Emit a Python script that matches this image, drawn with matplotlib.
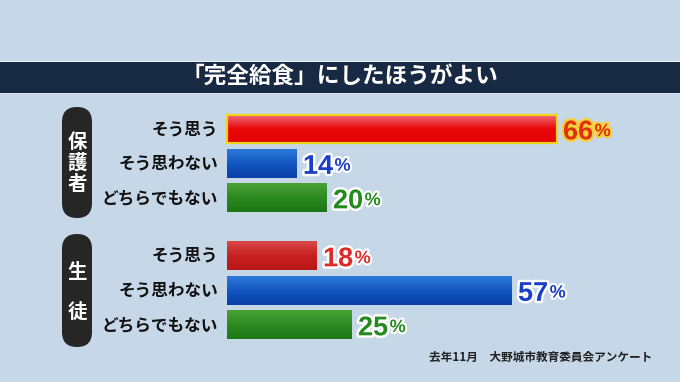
import numpy as np
import matplotlib
matplotlib.use('Agg')
import matplotlib.pyplot as plt
from matplotlib.patches import Rectangle, FancyBboxPatch
from matplotlib.colors import LinearSegmentedColormap
import matplotlib.patheffects as pe

plt.rcParams['font.family'] = ['Noto Sans CJK JP', 'DejaVu Sans']

# data
title = '「完全給食」にしたほうがよい'
groups = ['保護者', '生徒']
answers = ['そう思う', 'そう思わない', 'どちらでもない']
parents = [66, 14, 20]
students = [18, 57, 25]
source = '去年11月　大野城市教育委員会アンケート'

W, H = 680, 382
bg = '#c6d8e8'
fig = plt.figure(figsize=(W / 100, H / 100), dpi=100, facecolor=bg)


def fx(px):
    return px / W


def fy(py):
    return 1 - py / H


# title band
fig.patches.append(Rectangle((0, fy(93)), 1, fy(62) - fy(93), transform=fig.transFigure,
                             facecolor='#172943', edgecolor='none'))
fig.patches.append(Rectangle((0, fy(62)), 1, 1.2 / H, transform=fig.transFigure,
                             facecolor='#eef4fa', edgecolor='none'))
fig.patches.append(Rectangle((0, fy(94)), 1, 1.2 / H, transform=fig.transFigure,
                             facecolor='#dde8f2', edgecolor='none'))
fig.text(0.5, fy(77), title, color='white', fontsize=16.3, fontweight='bold',
         ha='center', va='center')

# group pills
pills = [(107, 218, [142, 163.5, 185]), (234, 347, [272, 312])]
for (top, bot, ys), name in zip(pills, groups):
    fig.patches.append(FancyBboxPatch((fx(62), fy(bot)), fx(92) - fx(62), fy(top) - fy(bot),
                                      boxstyle='round,pad=0,rounding_size=0.022',
                                      transform=fig.transFigure, facecolor='#262626',
                                      edgecolor='none', mutation_aspect=W / H))
    for ch, yy in zip(name, ys):
        fig.text(fx(77), fy(yy), ch, color='white', fontsize=14, fontweight='bold',
                 ha='center', va='center')

# bars axes: 0% at x=227px, 5 px per %
ax = fig.add_axes([0, 0, 1, 1])
ax.set_facecolor('none')
ax.axis('off')

pos = [0, 1, 2, 3.68, 4.68, 5.68]
vals = parents + students
h = 0.82

grads = [
    ['#ee7080', '#e80a0a', '#e40000'],
    ['#2c7ad8', '#1256c0', '#0a3fa6'],
    ['#4aa236', '#2c8a22', '#1e7616'],
    ['#d84a4a', '#c82020', '#b81616'],
    ['#2c7ad8', '#1256c0', '#0a3fa6'],
    ['#4aa236', '#2c8a22', '#1e7616'],
]
txt_colors = ['#e0300c', '#1a3ec8', '#238a1e', '#e02a2a', '#1a3ec8', '#238a1e']
stroke_colors = ['#f7cf3a', 'white', 'white', 'white', 'white', 'white']

grad = np.linspace(0, 1, 64).reshape(-1, 1)
for i, (p, v) in enumerate(zip(pos, vals)):
    cmap = LinearSegmentedColormap.from_list('g%d' % i, grads[i])
    ax.imshow(grad, cmap=cmap, extent=(0, v, p + h / 2, p - h / 2), aspect='auto',
              zorder=2, interpolation='bilinear')
    if i == 0:
        ax.add_patch(Rectangle((0, p - h / 2), v, h, facecolor='none', edgecolor='#f2d21a',
                               linewidth=1.6, zorder=3))
    ax.text(-1.8, p, answers[i % 3], ha='right', va='center', fontsize=12,
            fontweight='bold', color='#111111')
    num = ax.text(v + 1.2, p + 0.3, str(v), ha='left', va='baseline', fontsize=19.5,
                  fontweight='bold', color=txt_colors[i], family='Liberation Sans',
                  path_effects=[pe.withStroke(linewidth=3.5, foreground=stroke_colors[i])])
    ax.annotate('%', xy=(1, 0.2), xycoords=num, xytext=(1, 0), textcoords='offset points',
                ha='left', va='bottom', fontsize=13, fontweight='bold', color=txt_colors[i],
                family='Liberation Sans',
                path_effects=[pe.withStroke(linewidth=3, foreground=stroke_colors[i])])

ax.set_xlim(-227 / 5, (W - 227) / 5)
ax.set_ylim((H - 129) / 34.5, -129 / 34.5)

fig.text(fx(652), fy(357), source, ha='right', va='center', fontsize=8.4,
         color='#222222', fontweight='bold')

fig.savefig('out.png', dpi=100, facecolor=bg)
